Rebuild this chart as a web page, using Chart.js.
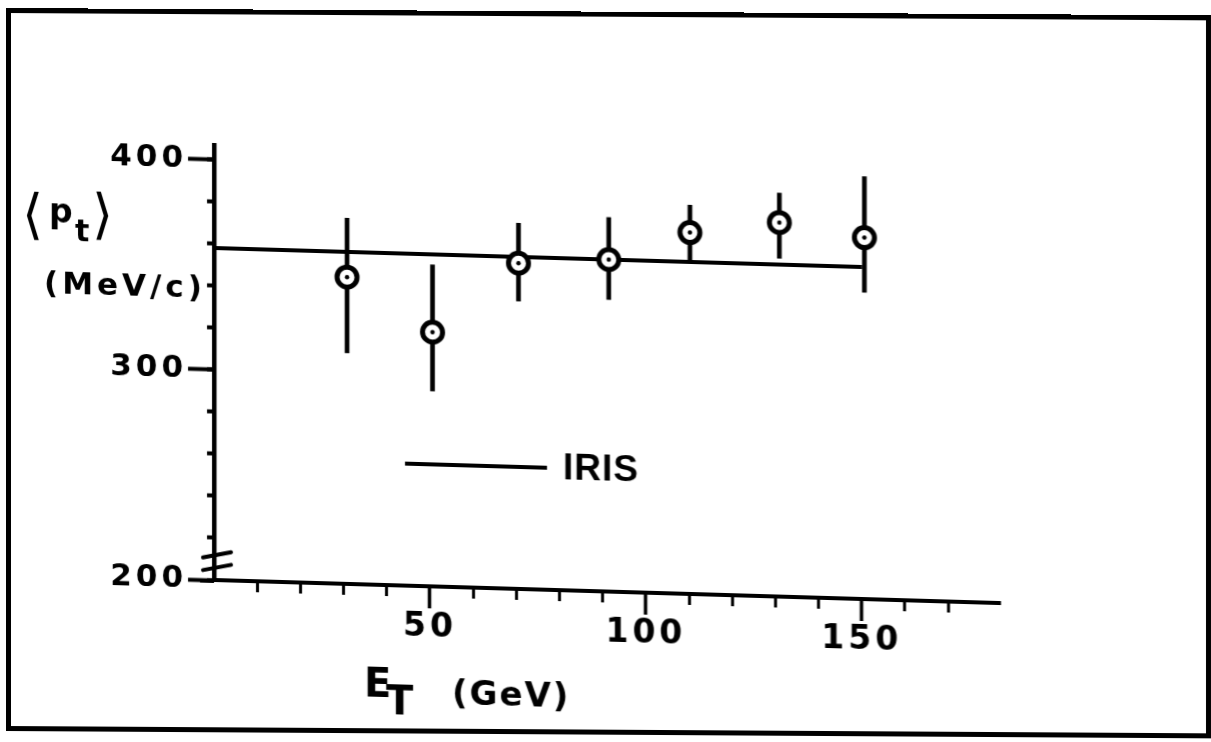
<!DOCTYPE html>
<html>
<head>
<meta charset="utf-8">
<title>Mean transverse momentum vs transverse energy</title>
<script src="https://cdn.jsdelivr.net/npm/chart.js@4.4.1/dist/chart.umd.min.js"></script>
<style>
  html, body { margin: 0; padding: 0; background: #fff; }
  body { width: 1211px; height: 742px; position: relative; overflow: hidden; }
  /* the plot is drawn with a slight shear, as on the printed page */
  #wrap { position: absolute; left: 0; top: 0; width: 1211px; height: 742px;
          transform: skewY(1.68deg); transform-origin: 214px 0; }
  #frame { position: absolute; left: 6px; top: 8px; width: 1205px; height: 723px;
           border: 5px solid #000; box-sizing: border-box;
           transform: skewY(0.35deg); transform-origin: 0 0; }
</style>
</head>
<body>
<div id="wrap"><canvas id="c" width="1211" height="742"></canvas></div>
<div id="frame"></div>
<script>
// Transverse energy bins (GeV)
const etValues = [30.8, 50.6, 70.5, 91.4, 110.2, 130.9, 150.6];
// Mean transverse momentum <p_t> (MeV/c) and its error range
const ptValues = [346, 321, 355, 358, 372, 378, 372];
const ptLow    = [310, 293, 337, 339, 359, 361, 346];
const ptHigh   = [374, 353, 374, 378, 385, 392, 401];
// IRIS model prediction
const irisEt = [0, 150];
const irisPt = [358, 358];
// Labelled axis ticks
const xMajorTicks = [50, 100, 150];
const yMajorTicks = [200, 300, 400];

const INK = '#000';
const tickFontY = { family: 'DejaVu Sans', weight: 'bold', size: 31 };
const tickFontX = { family: 'DejaVu Sans', weight: 'bold', size: 33 };

const points = etValues.map((x, i) => ({ x: x, y: ptValues[i] }));

// Axis titles, legend and the axis break marks
const decorations = {
  id: 'decorations',
  beforeDraw(chart) {
    chart.ctx.letterSpacing = '4px';
  },
  afterDraw(chart) {
    const ctx = chart.ctx;
    const area = chart.chartArea;
    const yScale = chart.scales.y;
    ctx.save();
    ctx.fillStyle = INK;
    ctx.strokeStyle = INK;
    ctx.letterSpacing = '0px';
    ctx.textAlign = 'left';

    // y-axis break marks just above 200
    ctx.lineWidth = 4;
    ctx.lineCap = 'round';
    [212, 206].forEach(v => {
      const py = yScale.getPixelForValue(v);
      ctx.beginPath();
      ctx.moveTo(area.left - 11, py + 3);
      ctx.lineTo(area.left + 17, py - 3);
      ctx.stroke();
    });
    // x axis runs a little past the y axis on the left
    ctx.lineWidth = 4;
    ctx.lineCap = 'butt';
    ctx.beginPath();
    ctx.moveTo(area.left - 14, area.bottom + 1);
    ctx.lineTo(area.left, area.bottom + 1);
    ctx.stroke();

    // y-axis title: <p_t> (MeV/c)
    ctx.textBaseline = 'middle';
    ctx.font = '54px "DejaVu Sans"';
    ctx.fillText('\u27E8', 22, 224);
    ctx.textBaseline = 'alphabetic';
    ctx.font = 'bold 33px "DejaVu Sans"';
    ctx.fillText('p', 49, 227);
    ctx.font = 'bold 30px "DejaVu Sans"';
    ctx.fillText('t', 75, 245);
    ctx.textBaseline = 'middle';
    ctx.font = '54px "DejaVu Sans"';
    ctx.fillText('\u27E9', 92, 222);
    ctx.font = 'bold 31px "DejaVu Sans"';
    ctx.letterSpacing = '4px';
    ctx.fillText('(MeV/c)', 44, 290);

    // x-axis title: E_T (GeV)
    ctx.letterSpacing = '0px';
    ctx.textBaseline = 'alphabetic';
    ctx.font = 'bold 40px "DejaVu Sans"';
    ctx.fillText('E', 364, 692);
    ctx.fillText('T', 386, 709);
    ctx.font = 'bold 34px "DejaVu Sans"';
    ctx.letterSpacing = '2px';
    ctx.fillText('(GeV)', 452, 697);

    // legend entry for the model line
    const model = chart.data.datasets.find(d => d.label === 'IRIS');
    ctx.letterSpacing = '1px';
    ctx.lineWidth = model.borderWidth;
    ctx.strokeStyle = model.borderColor;
    ctx.beginPath();
    ctx.moveTo(405, 458);
    ctx.lineTo(547, 458);
    ctx.stroke();
    ctx.font = 'bold 37px "Liberation Sans"';
    ctx.fillText(model.label, 563, 469);
    ctx.restore();
  }
};

new Chart(document.getElementById('c'), {
  type: 'scatter',
  data: {
    datasets: [
      {
        type: 'line',
        label: 'IRIS',
        data: irisEt.map((x, i) => ({ x: x, y: irisPt[i] })),
        borderColor: INK,
        borderWidth: 4,
        pointRadius: 0,
        fill: false,
        tension: 0,
        order: 3,
        xAxisID: 'x', yAxisID: 'y'
      },
      {
        type: 'bar',
        label: 'error',
        data: etValues.map((x, i) => ({ x: x, y: [ptLow[i], ptHigh[i]] })),
        backgroundColor: INK,
        borderWidth: 0,
        barThickness: 4,
        grouped: false,
        order: 2,
        xAxisID: 'x', yAxisID: 'y'
      },
      {
        type: 'scatter',
        label: 'data',
        data: points,
        pointStyle: 'circle',
        pointRadius: 10,
        pointBorderWidth: 5,
        pointBackgroundColor: '#fff',
        pointBorderColor: INK,
        order: 1,
        xAxisID: 'x', yAxisID: 'y'
      },
      {
        type: 'scatter',
        label: 'centre',
        data: points,
        pointStyle: 'circle',
        pointRadius: 2.2,
        pointBorderWidth: 0,
        pointBackgroundColor: INK,
        order: 0,
        xAxisID: 'x', yAxisID: 'y'
      }
    ]
  },
  options: {
    responsive: false,
    devicePixelRatio: 1,
    animation: false,
    events: [],
    layout: { padding: { top: 145, right: 211, bottom: 62, left: 0 } },
    plugins: { legend: { display: false }, tooltip: { enabled: false }, title: { display: false } },
    scales: {
      x: {
        type: 'linear', position: 'bottom', min: 0, max: 182, offset: false, weight: 1,
        afterBuildTicks: s => { s.ticks = xMajorTicks.map(v => ({ value: v })); },
        afterFit: s => { s.height = 100; },
        ticks: { color: INK, font: tickFontX, padding: 0, maxRotation: 0, autoSkip: false,
                 callback: v => String(v) },
        grid: { offset: false, drawOnChartArea: false, drawTicks: true, tickLength: 22,
                tickWidth: 3.5, tickColor: INK },
        border: { display: true, color: INK, width: 4 }
      },
      xMinor: {
        type: 'linear', axis: 'x', position: 'bottom', min: 0, max: 182, offset: false, weight: 0,
        afterBuildTicks: s => { s.ticks = s.ticks.filter(t => t.value > 0 && t.value <= 170 && t.value % 10 === 0); },
        afterFit: s => { s.height = 0; },
        ticks: { display: false, stepSize: 10 },
        grid: { offset: false, drawOnChartArea: false, drawTicks: true, tickLength: 11,
                tickWidth: 3, tickColor: INK },
        border: { display: false }
      },
      y: {
        type: 'linear', position: 'left', min: 200, max: 407, weight: 1,
        afterBuildTicks: s => { s.ticks = yMajorTicks.map(v => ({ value: v })); },
        afterFit: s => { s.width = 214; },
        ticks: { color: INK, font: tickFontY, padding: 1, callback: v => String(v) },
        grid: { drawOnChartArea: false, drawTicks: true, tickLength: 26, tickWidth: 4, tickColor: INK },
        border: { display: true, color: INK, width: 4.5 }
      },
      yMinor: {
        type: 'linear', axis: 'y', position: 'left', min: 200, max: 407, weight: 0,
        afterBuildTicks: s => { s.ticks = s.ticks.filter(t => t.value % 20 === 0); },
        afterFit: s => { s.width = 0; },
        ticks: { display: false, stepSize: 20 },
        grid: { drawOnChartArea: false, drawTicks: true, tickLength: 7, tickWidth: 4, tickColor: INK },
        border: { display: false }
      }
    }
  },
  plugins: [decorations]
});
</script>
</body>
</html>
